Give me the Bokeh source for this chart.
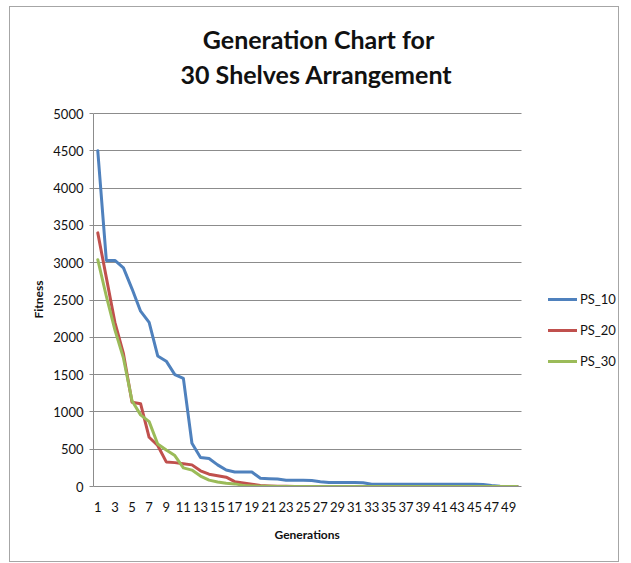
from bokeh.plotting import figure
from bokeh.models import Label, Legend, LegendItem, FixedTicker, Range1d, ColumnDataSource, Title
from bokeh.embed import file_html
from bokeh.resources import INLINE

# ---- data ----
generations = list(range(1, 51))
ps_10 = [4500, 3030, 3030, 2930, 2650, 2350, 2200, 1750, 1680, 1500,
         1450, 580, 390, 375, 290, 220, 195, 195, 195, 110,
         105, 100, 85, 85, 85, 80, 65, 55, 55, 55,
         55, 50, 30, 30, 30, 30, 30, 30, 30, 30,
         30, 30, 30, 30, 30, 28, 12, 2, 0, 0]
ps_20 = [3400, 2800, 2200, 1780, 1130, 1110, 660, 550, 330, 320,
         305, 290, 210, 165, 145, 125, 65, 48, 30, 13,
         8, 5, 3, 0, 0, 0, 0, 0, 0, 0,
         0, 0, 0, 0, 0, 0, 0, 0, 0, 0,
         0, 0, 0, 0, 0, 0, 0, 0, 0, 0]
ps_30 = [3040, 2550, 2100, 1720, 1150, 960, 870, 570, 490, 415,
         250, 220, 140, 85, 60, 45, 35, 15, 8, 5,
         3, 0, 0, 0, 0, 0, 0, 0, 0, 0,
         0, 0, 0, 0, 0, 0, 0, 0, 0, 0,
         0, 0, 0, 0, 0, 0, 0, 0, 0, 0]
series_names = ["PS_10", "PS_20", "PS_30"]
series_colors = ["#4F81BD", "#C0504D", "#9BBB59"]
x_tick_values = list(range(1, 50, 2))
y_tick_values = list(range(0, 5001, 500))
title_lines = ["Generation Chart for", "30 Shelves Arrangement"]
y_label = "Fitness"
x_label = "Generations"

FONT = "Lato"

# ---- layout constants (canvas pixels) ----
W, H = 610, 556
frame_left, frame_right = 83, 608          # drawing frame (extended right for the legend)
axis_right = 511                           # where category 50.5 ends
frame_top, frame_bottom = 7, 479           # frame extended up for the title
value_top_px = 106                         # pixel row of the 5000 value
x_start, x_last = 0.5, 50.5
x_end = x_start + (frame_right - frame_left) * (x_last - x_start) / (axis_right - frame_left)
y_max_tick = 5000
y_end = y_max_tick * (frame_bottom - frame_top) / (frame_bottom - value_top_px)

p = figure(width=W, height=H, output_backend="svg", toolbar_location=None,
           x_range=Range1d(x_start, x_end), y_range=Range1d(0, y_end),
           min_border_left=frame_left, min_border_right=W - frame_right,
           min_border_top=frame_top, min_border_bottom=H - frame_bottom)
p.styles = {"border": "1px solid #a6a6a6", "margin-left": "9px", "margin-top": "6px"}
p.outline_line_color = None
p.background_fill_color = "white"
p.border_fill_color = "white"

source = ColumnDataSource(dict(x=generations, ps_10=ps_10, ps_20=ps_20, ps_30=ps_30))
renderers = []
for name, col, color in zip(series_names, ["ps_10", "ps_20", "ps_30"], series_colors):
    r = p.line("x", col, source=source, line_color=color, line_width=3,
               line_join="round", line_cap="round")
    renderers.append(r)

# grid
p.xgrid.grid_line_color = None
p.ygrid.grid_line_color = "#8c8c8c"
p.ygrid.grid_line_width = 1
p.ygrid.ticker = FixedTicker(ticks=y_tick_values)
p.ygrid.cross_bounds = (x_start, x_last)

# axes
p.xaxis.ticker = FixedTicker(ticks=x_tick_values)
p.xaxis.bounds = (x_start, x_last)
p.yaxis.ticker = FixedTicker(ticks=y_tick_values)
p.yaxis.bounds = (0, y_max_tick)
for ax in (p.xaxis[0], p.yaxis[0]):
    ax.axis_line_color = "#8c8c8c"
    ax.major_tick_line_color = "#8c8c8c"
    ax.minor_tick_line_color = None
    ax.major_label_text_font = FONT
    ax.major_label_text_font_size = "13px"
    ax.major_label_text_color = "#111111"

p.yaxis.major_tick_out = 4
p.yaxis.major_tick_in = 0
p.yaxis.major_label_standoff = 6

p.xaxis.major_tick_line_color = None
p.xaxis.major_tick_out = 0
p.xaxis.major_tick_in = 0
p.xaxis.major_label_standoff = 15

# axis titles as side titles
p.add_layout(Title(text=y_label, align="left", offset=168, vertical_align="bottom",
                   standoff=10, text_font=FONT, text_font_style="bold",
                   text_font_size="12px", text_color="#111111"), "left")
p.add_layout(Title(text=x_label, align="left", offset=181, vertical_align="top",
                   standoff=24, text_font=FONT, text_font_style="bold",
                   text_font_size="12px", text_color="#111111"), "below")

# chart title lines (screen units relative to the frame's bottom-left)
p.add_layout(Label(x=225, y=448, x_units="screen", y_units="screen", text=title_lines[0],
                   text_align="center", text_baseline="middle", text_font=FONT,
                   text_font_style="bold", text_font_size="25px", text_color="#111111"))
p.add_layout(Label(x=223, y=413, x_units="screen", y_units="screen", text=title_lines[1],
                   text_align="center", text_baseline="middle", text_font=FONT,
                   text_font_style="bold", text_font_size="25px", text_color="#111111"))

legend = Legend(items=[LegendItem(label=n, renderers=[r]) for n, r in zip(series_names, renderers)],
                location=(455, 115), orientation="vertical",
                glyph_width=29, glyph_height=20, label_height=20, spacing=11,
                label_standoff=3, padding=0, margin=0,
                border_line_color=None, background_fill_alpha=0,
                label_text_font=FONT, label_text_font_size="13px", label_text_color="#111111")
p.add_layout(legend)

open("out.html", "w").write(file_html(p, INLINE))
